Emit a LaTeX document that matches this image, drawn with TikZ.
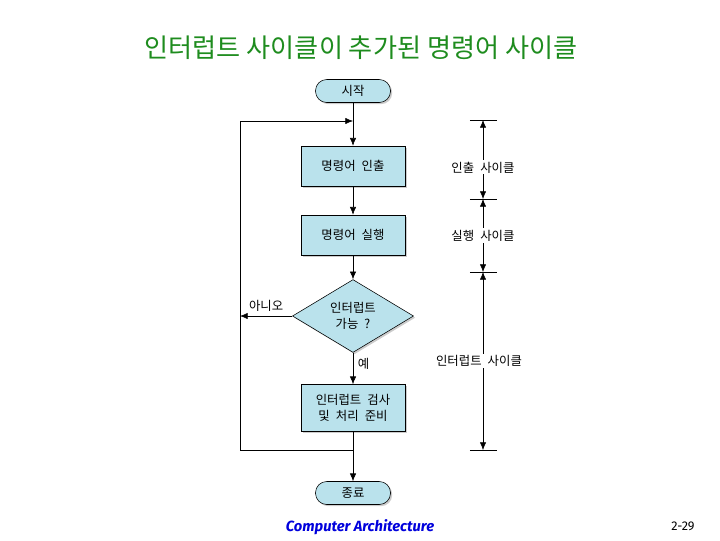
\documentclass[tikz,border=0pt]{standalone}
\usepackage{fontspec}
\usepackage{xcolor}
\usetikzlibrary{shapes.geometric,arrows.meta,shadows}
\setmainfont{Noto Sans CJK KR}
\newfontfamily\labelfont[WordSpace=2.2]{Noto Sans CJK KR}
\newfontfamily\footfont{Fira Sans}
\definecolor{boxblue}{RGB}{186,226,236}
\definecolor{titlegreen}{RGB}{30,140,30}
\definecolor{footblue}{RGB}{0,0,220}
\tikzset{
  flowbox/.style={draw, fill=boxblue, minimum width=2.6cm, minimum height=1cm,
    align=center, font=\labelfont\fontsize{8.8}{11.5}\selectfont,
    drop shadow={shadow xshift=1.2pt, shadow yshift=-1.2pt, fill=gray!80}},
  terminal/.style={flowbox, minimum width=1.875cm, minimum height=0.575cm, rounded corners=0.28cm},
  decision/.style={flowbox, diamond, inner sep=0pt, minimum width=3.025cm, minimum height=1.45cm},
  cyclelabel/.style={fill=white, inner sep=1pt, font=\labelfont\fontsize{8.8}{11.5}\selectfont},
  edgelabel/.style={font=\labelfont\fontsize{8.8}{11.5}\selectfont}
}
\begin{document}
\begin{tikzpicture}[x=0.025cm, y=-0.025cm, >={Latex[length=5.5pt,width=4.5pt]}]
					\useasboundingbox (0,0) rectangle (720,540);
					
					\node[text=titlegreen, font=\fontsize{18.6}{22}\selectfont] (title) at (361,48) {인터럽트 사이클이 추가된 명령어 사이클};
					
					\node[terminal] (start) at (353,91) {시작};
					\node[flowbox] (fetch) at (353,166) {명령어 인출};
					\node[flowbox] (exec) at (353,235) {명령어 실행};
					\node[decision] (check) at (353,316) {인터럽트\\가능 ?};
					\node[flowbox, minimum height=1.175cm] (isr) at (353,408) {인터럽트 검사\\및 처리 준비};
					\node[terminal] (stop) at (353,493) {종료};
					
					\coordinate (JoinTop) at (353,121);
					\coordinate (JoinBottom) at (353,450);
					\coordinate (LoopTop) at (240,121);
					\coordinate (LoopBottom) at (240,450);
					\coordinate (NoEnd) at (240,316);
					
					\draw[->] (start) -- (fetch);
					\draw[->] (fetch) -- (exec);
					\draw[->] (exec) -- (check);
					\draw[->] (check) -- (isr) node[pos=0.35, right, edgelabel] {예};
					\draw[->] (check.west) -- (NoEnd) node[midway, above, edgelabel] {아니오};
					\draw[->] (isr) -- (stop);
					\draw[->] (JoinBottom) -- (LoopBottom) -- (LoopTop) -- (JoinTop);
					
					% cycle dimensions
					\coordinate (T1) at (483,120);
					\coordinate (T2) at (483,199);
					\coordinate (T3) at (483,272);
					\coordinate (T4) at (483,450);
					\foreach \t in {T1,T2,T3,T4}
						\draw ([xshift=-0.33cm]\t) -- ([xshift=0.35cm]\t);
					\draw[<->] (T1) -- (T2) node[pos=0.6, cyclelabel] {인출 사이클};
					\draw[<->] (T2) -- (T3) node[midway, cyclelabel] {실행 사이클};
					\draw[<->] (T3) -- (T4) node[midway, xshift=-0.1cm, cyclelabel] {인터럽트 사이클};
					
					\node[text=footblue, font=\footfont\bfseries\itshape\fontsize{10.5}{12}\selectfont] (course) at (360,527) {Computer Architecture};
					\node[font=\footfont\fontsize{9}{11}\selectfont] (page) at (683,526) {2-29};
\end{tikzpicture}
\end{document}
